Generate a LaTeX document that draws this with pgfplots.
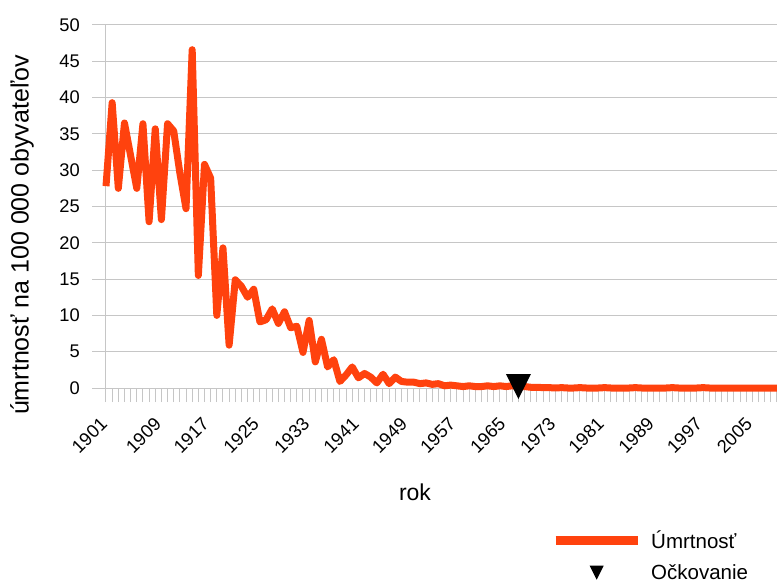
\documentclass[border=0pt]{standalone}
\usepackage{fontspec}
\setmainfont{Liberation Sans}
\usepackage{pgfplots}
\usepackage{pgfplotstable}
\pgfplotsset{compat=1.18}
\definecolor{serie}{HTML}{FF420E}
\definecolor{gridc}{HTML}{C6C6C6}
\pgfdeclareplotmark{dtri}{%
  \pgfpathmoveto{\pgfqpoint{-\pgfplotmarksize}{\pgfplotmarksize}}%
  \pgfpathlineto{\pgfqpoint{\pgfplotmarksize}{\pgfplotmarksize}}%
  \pgfpathlineto{\pgfqpoint{0pt}{-\pgfplotmarksize}}%
  \pgfpathclose\pgfusepathqfill}
\pgfplotsset{
  linelegend/.style={legend image code/.code={\draw[##1, line width=9pt] (0pt,0pt) -- (82pt,0pt);}},
  marklegend/.style={legend image code/.code={\path (0pt,0pt) (82pt,0pt);\draw[##1, mark size=7pt] plot coordinates {(41pt,0pt)};}},
}

\pgfplotstableread{
year value
1901 27.8
1902 39.3
1903 27.5
1904 36.5
1905 32.0
1906 27.5
1907 36.4
1908 22.9
1909 35.7
1910 23.2
1911 36.4
1912 35.4
1913 29.6
1914 24.7
1915 46.6
1916 15.5
1917 30.8
1918 28.9
1919 10.0
1920 19.3
1921 5.9
1922 14.9
1923 14.0
1924 12.5
1925 13.6
1926 9.1
1927 9.4
1928 10.9
1929 8.9
1930 10.5
1931 8.3
1932 8.5
1933 4.9
1934 9.3
1935 3.6
1936 6.7
1937 2.9
1938 3.9
1939 0.9
1940 1.8
1941 2.9
1942 1.4
1943 2.0
1944 1.5
1945 0.7
1946 1.9
1947 0.6
1948 1.5
1949 0.9
1950 0.8
1951 0.8
1952 0.6
1953 0.7
1954 0.5
1955 0.6
1956 0.3
1957 0.4
1958 0.3
1959 0.2
1960 0.3
1961 0.2
1962 0.2
1963 0.3
1964 0.2
1965 0.3
1966 0.2
1967 0.3
1968 0.2
1969 0.2
1970 0.1
1971 0.1
1972 0.05
1973 0.05
1974 0
1975 0.05
1976 0
1977 0
1978 0.05
1979 0
1980 0
1981 0
1982 0.05
1983 0
1984 0
1985 0
1986 0
1987 0.05
1988 0
1989 0
1990 0
1991 0
1992 0
1993 0.05
1994 0
1995 0
1996 0
1997 0
1998 0.05
1999 0
2000 0
2001 0
2002 0
2003 0
2004 0
2005 0
2006 0
2007 0
2008 0
2009 0
2010 0
2011 0
}\mortality

\pgfplotstableread{
year value
1968 0.2
}\vaccination

\begin{document}
\begin{tikzpicture}
\useasboundingbox (0,0) rectangle (777pt,581pt);
\begin{axis}[
  at={(106pt,193pt)}, anchor=south west,
  scale only axis, width=671pt, height=363pt,
  xmin=1901, xmax=2010, ymin=0, ymax=50,
  clip=false,
  axis lines*=left,
  axis line style={draw=gridc, line width=1pt},
  xtick={1901.32,1910.10,1917.85,1925.97,1934.19,1942.21,1950.06,1957.90,1966.03,1974.15,1982.01,1990.13,1997.98,2006.10},
  xticklabels={1901,1909,1917,1925,1933,1941,1949,1957,1965,1973,1981,1989,1997,2005},
  minor xtick={1901,1902,...,2010},
  ytick={0,5,...,50},
  ymajorgrids,
  grid style={draw=gridc, line width=1pt},
  tick align=outside,
  major tick length=14pt, minor tick length=14pt,
  every tick/.style={draw=gridc, line width=1pt},
  minor tick style={draw=gridc, line width=1pt},
  major x tick style={draw=none},
  /pgf/number format/assume math mode=true,
  tick label style={font=\fontsize{18.3}{22}\selectfont},
  yticklabel style={anchor=east, inner sep=0pt, xshift=-12pt},
  xticklabel style={inner sep=0pt, xshift=-4pt, yshift=-19pt, rotate=45, anchor=east},
  xlabel={rok},
  xlabel style={at={(axis description cs:0.4605,-0.2865)}, anchor=center, font=\fontsize{23}{27}\selectfont},
  ylabel={úmrtnosť na 100 000 obyvateľov},
  ylabel style={at={(axis description cs:-0.1252,0.4215)}, anchor=center, font=\fontsize{25}{29}\selectfont},
  legend style={at={(axis description cs:0.6632,-0.3884)}, anchor=north west,
    draw=none, fill=none, inner sep=0pt, row sep=10pt,
    font=\fontsize{20.5}{24}\selectfont,
    /tikz/every odd column/.style={column sep=7pt}},
  legend cell align=left,
]
\addplot[serie, line width=7pt, line join=round, linelegend]
  table[x=year, y=value] {\mortality};
\addlegendentry{Úmrtnosť}
\addplot[only marks, mark=dtri, mark size=12.5pt, black, marklegend]
  table[x=year, y=value] {\vaccination};
\addlegendentry{Očkovanie}
\end{axis}
\end{tikzpicture}
\end{document}
